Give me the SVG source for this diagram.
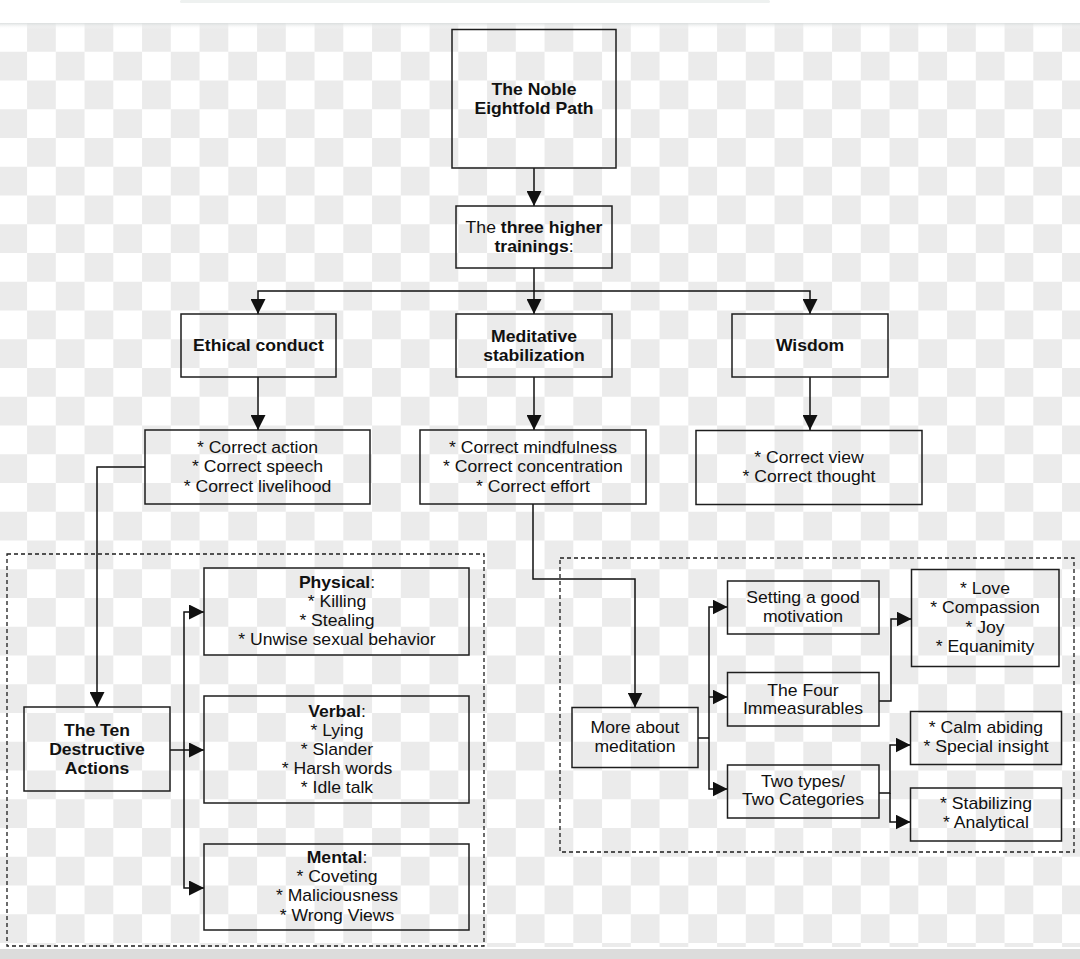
<svg xmlns="http://www.w3.org/2000/svg" width="1080" height="959" viewBox="0 0 1080 959">
<style>
.box{fill:none;stroke:#1e1e1e;stroke-width:1.5}
.cont{fill:none;stroke:#1e1e1e;stroke-width:1.3;stroke-dasharray:4 3}
.conn path{fill:none;stroke:#111;stroke-width:1.5}
.arr{marker-end:url(#ah)}
text{font-family:"Liberation Sans",Arial,sans-serif;font-size:16px;fill:#111;text-anchor:middle}
.b{font-weight:bold}
</style>
<defs>
<pattern id="chk" patternUnits="userSpaceOnUse" x="-1.7" y="23" width="57.5" height="57.5">
<rect x="0" y="0" width="57.5" height="57.5" fill="#ffffff"/>
<rect x="28.75" y="0" width="28.75" height="28.75" fill="#ebebeb"/>
<rect x="0" y="28.75" width="28.75" height="28.75" fill="#ebebeb"/>
</pattern>
<linearGradient id="shade" x1="0" y1="0" x2="0" y2="1">
<stop offset="0" stop-color="#d8dcdc" stop-opacity="0.9"/>
<stop offset="1" stop-color="#ffffff" stop-opacity="0"/>
</linearGradient>
<marker id="ah" markerUnits="userSpaceOnUse" markerWidth="15" markerHeight="15" refX="15" refY="7.5" orient="auto" viewBox="0 0 15 15">
<path d="M0,0 L15,7.5 L0,15 z" fill="#111"/>
</marker>
</defs>

<g id="background">
<rect x="0" y="0" width="1080" height="959" fill="#ffffff"/>
<rect x="0" y="23" width="1080" height="924" fill="url(#chk)"/>
<rect x="0" y="23" width="1080" height="6" fill="url(#shade)"/>
<rect x="180" y="0" width="590" height="3" rx="1.5" fill="#eef1f0"/>
<rect x="0" y="949" width="1080" height="10" fill="#dcdcdc"/>
</g>

<g id="containers">
<rect class="cont" x="7" y="554" width="477" height="392"/>
<rect class="cont" x="560" y="558" width="514" height="294"/>
</g>

<g class="conn" id="connectors">
<path class="arr" d="M534,168 V206"/>
<path class="arr" d="M534,268 V314"/>
<path class="arr" d="M534,291 H258 V314"/>
<path class="arr" d="M534,291 H810 V314"/>
<path class="arr" d="M258,377 V430"/>
<path class="arr" d="M534,377 V430"/>
<path class="arr" d="M810,377 V430"/>
<path class="arr" d="M145,467 H97 V707"/>
<path class="arr" d="M170,750 H204"/>
<path class="arr" d="M184,750 V612 H204"/>
<path class="arr" d="M184,750 V888 H204"/>
<path class="arr" d="M533,504 V579 H635 V707.5"/>
<path d="M698,738 H709"/>
<path class="arr" d="M709,738 V607 H727.5"/>
<path class="arr" d="M709,697 H727.5"/>
<path class="arr" d="M709,738 V789 H727.5"/>
<path class="arr" d="M879,701 H891 V619 H911.5"/>
<path class="arr" d="M879,793 H890 V745 H910.5"/>
<path class="arr" d="M890,793 V822 H910.5"/>
</g>

<g id="noble">
<rect class="box" x="452" y="29.5" width="164" height="138.5"/>
<text class="b" transform="translate(534,0) scale(1.1,1)"><tspan x="0" y="95">The Noble</tspan><tspan x="0" y="114">Eightfold Path</tspan></text>
</g>
<g id="trainings">
<rect class="box" x="456" y="206" width="156" height="62"/>
<text transform="translate(534,0) scale(1.1,1)"><tspan x="0" y="233">The <tspan class="b">three higher</tspan></tspan><tspan x="0" y="252"><tspan class="b">trainings</tspan>:</tspan></text>
</g>
<g id="ethical">
<rect class="box" x="181" y="314" width="155" height="63"/>
<text class="b" transform="translate(258.5,0) scale(1.1,1)" x="0" y="351">Ethical conduct</text>
</g>
<g id="meditative">
<rect class="box" x="456" y="314" width="156" height="63"/>
<text class="b" transform="translate(534,0) scale(1.1,1)"><tspan x="0" y="342">Meditative</tspan><tspan x="0" y="361">stabilization</tspan></text>
</g>
<g id="wisdom">
<rect class="box" x="732" y="314" width="156" height="63"/>
<text class="b" transform="translate(810,0) scale(1.1,1)" x="0" y="351">Wisdom</text>
</g>
<g id="ethical-list">
<rect class="box" x="145" y="430" width="225" height="74"/>
<text transform="translate(257.5,0) scale(1.1,1)"><tspan x="0" y="453">* Correct action</tspan><tspan x="0" y="472.5">* Correct speech</tspan><tspan x="0" y="492">* Correct livelihood</tspan></text>
</g>
<g id="meditative-list">
<rect class="box" x="420" y="430" width="226" height="74"/>
<text transform="translate(533,0) scale(1.1,1)"><tspan x="0" y="453">* Correct mindfulness</tspan><tspan x="0" y="472.5">* Correct concentration</tspan><tspan x="0" y="492">* Correct effort</tspan></text>
</g>
<g id="wisdom-list">
<rect class="box" x="696" y="430.5" width="226" height="74"/>
<text transform="translate(809,0) scale(1.1,1)"><tspan x="0" y="463">* Correct view</tspan><tspan x="0" y="482">* Correct thought</tspan></text>
</g>
<g id="ten">
<rect class="box" x="24" y="707" width="146" height="84"/>
<text class="b" transform="translate(97,0) scale(1.1,1)"><tspan x="0" y="736">The Ten</tspan><tspan x="0" y="755">Destructive</tspan><tspan x="0" y="774">Actions</tspan></text>
</g>
<g id="physical">
<rect class="box" x="204" y="568" width="265" height="87"/>
<text transform="translate(337,0) scale(1.1,1)"><tspan x="0" y="588"><tspan class="b">Physical</tspan>:</tspan><tspan x="0" y="607">* Killing</tspan><tspan x="0" y="626">* Stealing</tspan><tspan x="0" y="645">* Unwise sexual behavior</tspan></text>
</g>
<g id="verbal">
<rect class="box" x="204" y="696" width="265" height="107"/>
<text transform="translate(337,0) scale(1.1,1)"><tspan x="0" y="717"><tspan class="b">Verbal</tspan>:</tspan><tspan x="0" y="736">* Lying</tspan><tspan x="0" y="755">* Slander</tspan><tspan x="0" y="774.5">* Harsh words</tspan><tspan x="0" y="793.5">* Idle talk</tspan></text>
</g>
<g id="mental">
<rect class="box" x="204" y="844" width="265" height="86"/>
<text transform="translate(337,0) scale(1.1,1)"><tspan x="0" y="863"><tspan class="b">Mental</tspan>:</tspan><tspan x="0" y="882">* Coveting</tspan><tspan x="0" y="901.5">* Maliciousness</tspan><tspan x="0" y="921">* Wrong Views</tspan></text>
</g>
<g id="more">
<rect class="box" x="572" y="707.5" width="126" height="60"/>
<text transform="translate(635,0) scale(1.1,1)"><tspan x="0" y="733.5">More about</tspan><tspan x="0" y="752.5">meditation</tspan></text>
</g>
<g id="setting">
<rect class="box" x="727.5" y="581" width="151.5" height="53"/>
<text transform="translate(803,0) scale(1.1,1)"><tspan x="0" y="603.5">Setting a good</tspan><tspan x="0" y="622">motivation</tspan></text>
</g>
<g id="four">
<rect class="box" x="727.5" y="672.5" width="151.5" height="53.5"/>
<text transform="translate(803,0) scale(1.1,1)"><tspan x="0" y="696">The Four</tspan><tspan x="0" y="714.5">Immeasurables</tspan></text>
</g>
<g id="twotypes">
<rect class="box" x="727.5" y="765" width="151.5" height="53"/>
<text transform="translate(803,0) scale(1.1,1)"><tspan x="0" y="787">Two types/</tspan><tspan x="0" y="805.5">Two Categories</tspan></text>
</g>
<g id="love">
<rect class="box" x="911.5" y="569.5" width="147.5" height="97"/>
<text transform="translate(985,0) scale(1.1,1)"><tspan x="0" y="594.5">* Love</tspan><tspan x="0" y="613.5">* Compassion</tspan><tspan x="0" y="633">* Joy</tspan><tspan x="0" y="652">* Equanimity</tspan></text>
</g>
<g id="calm">
<rect class="box" x="910.5" y="711.5" width="151" height="53"/>
<text transform="translate(986,0) scale(1.1,1)"><tspan x="0" y="733.5">* Calm abiding</tspan><tspan x="0" y="752.5">* Special insight</tspan></text>
</g>
<g id="stabilizing">
<rect class="box" x="910.5" y="788" width="151" height="53"/>
<text transform="translate(986,0) scale(1.1,1)"><tspan x="0" y="809.5">* Stabilizing</tspan><tspan x="0" y="828.5">* Analytical</tspan></text>
</g>
</svg>
